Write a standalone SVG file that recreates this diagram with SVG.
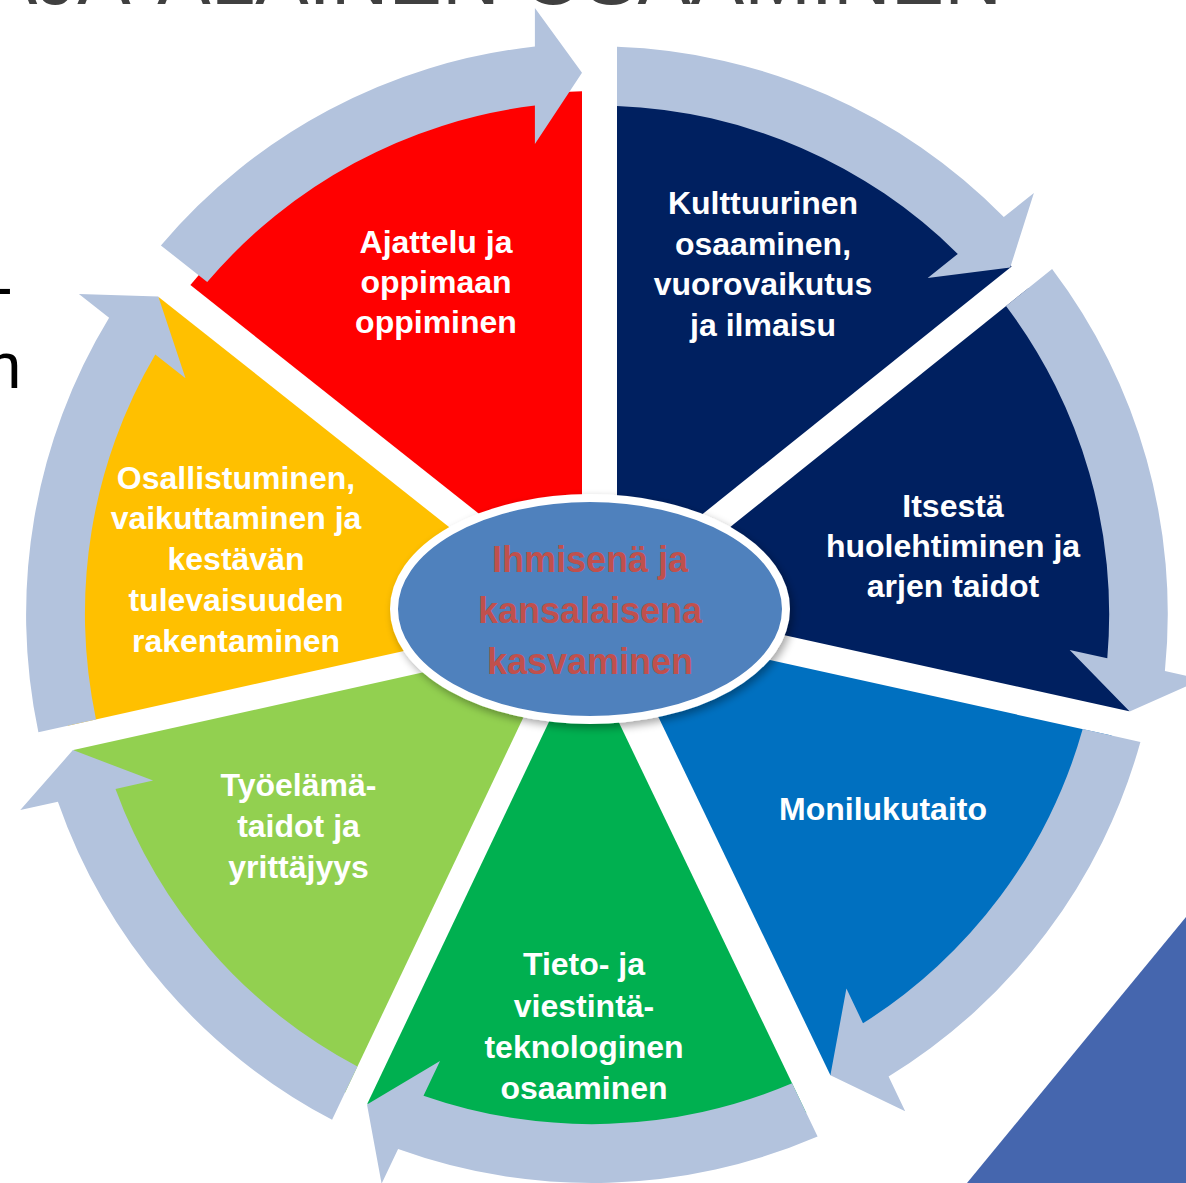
<svg xmlns="http://www.w3.org/2000/svg" width="1186" height="1183" viewBox="0 0 1186 1183">
<defs>
<style>
.lbl{font-family:"Liberation Sans",Arial,sans-serif;font-weight:bold;font-size:32px;fill:#FFFFFF;text-anchor:middle}
.ctr{font-family:"Liberation Sans",Arial,sans-serif;font-weight:bold;font-size:36px;fill:#C0504D;text-anchor:middle}
.arrow{fill:#B3C3DD}
.side{font-family:"Liberation Sans",Arial,sans-serif;font-size:64px;fill:#000000}
.title{font-family:"Liberation Sans",Arial,sans-serif;font-size:80px;fill:#404040;text-anchor:end}
</style>
<filter id="sh" x="-10%" y="-10%" width="130%" height="130%">
<feGaussianBlur in="SourceAlpha" stdDeviation="4"/>
<feOffset dx="3" dy="4" result="b"/>
<feComponentTransfer><feFuncA type="linear" slope="0.35"/></feComponentTransfer>
<feMerge><feMergeNode/><feMergeNode in="SourceGraphic"/></feMerge>
</filter>
</defs>
<rect width="1186" height="1183" fill="#FFFFFF"/>
<text class="title" x="1002" y="4">LAAJA-ALAINEN OSAAMINEN</text>
<text class="side" x="-8.5" y="309">-</text>
<text class="side" x="-14.3" y="388">n</text>
<polygon points="1186,917 967,1183 1186,1183" fill="#4566AE"/>

<g id="seg-ajattelu">
<path d="M537.7 560.3 L190.4 285.1 A523 523 0 0 1 582 91.2 L582 535.4 Z" fill="#FF0000"/>
<text class="lbl" x="436"><tspan x="436" y="253">Ajattelu ja</tspan><tspan x="436" y="293">oppimaan</tspan><tspan x="436" y="333">oppiminen</tspan></text>
</g>
<g id="seg-kulttuurinen">
<path d="M617 536.5 L617 73.4 A541 541 0 0 1 1011.6 266.5 L651.2 555.2 Z" fill="#002060"/>
<text class="lbl" x="763"><tspan x="763" y="214">Kulttuurinen</tspan><tspan x="763" y="255">osaaminen,</tspan><tspan x="763" y="295">vuorovaikutus</tspan><tspan x="763" y="336">ja ilmaisu</tspan></text>
</g>
<g id="seg-itsesta">
<path d="M667.9 576.9 L1028.7 287.9 A541 541 0 0 1 1129.2 711.3 L677 611.5 Z" fill="#002060"/>
<text class="lbl" x="953"><tspan x="953" y="516.5">Itsestä</tspan><tspan x="953" y="557">huolehtiminen ja</tspan><tspan x="953" y="597">arjen taidot</tspan></text>
</g>
<g id="seg-monilukutaito">
<path d="M673.1 638.7 L1111.6 735.5 A541.5 541.5 0 0 1 830.4 1075.2 L641 680.8 Z" fill="#0070C0"/>
<text class="lbl" x="883" y="820">Monilukutaito</text>
</g>
<g id="seg-tieto">
<path d="M605 693.6 L806.3 1112.9 A541 541 0 0 1 367.3 1103.8 L565.3 687.5 Z" fill="#00B050"/>
<text class="lbl" x="584"><tspan x="584" y="975">Tieto- ja</tspan><tspan x="584" y="1016.5">viestintä-</tspan><tspan x="584" y="1057.5">teknologinen</tspan><tspan x="584" y="1098.5">osaaminen</tspan></text>
</g>
<g id="seg-tyoelama">
<path d="M544 674 L345 1092.7 A541 541 0 0 1 73.4 750 L525.4 649.6 Z" fill="#92D050"/>
<text class="lbl" x="298.5"><tspan x="298.5" y="796">Työelämä-</tspan><tspan x="298.5" y="837">taidot ja</tspan><tspan x="298.5" y="878">yrittäjyys</tspan></text>
</g>
<g id="seg-osallistuminen">
<path d="M517.9 625.7 L67.7 725.7 A541 541 0 0 1 158.6 296.9 L522.4 585.2 Z" fill="#FFC000"/>
<text class="lbl" x="236"><tspan x="236" y="488.5">Osallistuminen,</tspan><tspan x="236" y="529">vaikuttaminen ja</tspan><tspan x="236" y="570">kestävän</tspan><tspan x="236" y="611">tulevaisuuden</tspan><tspan x="236" y="652">rakentaminen</tspan></text>
</g>

<g id="connectors">
<path class="arrow" d="M160.9 245.4 A571 571 0 0 1 534.9 46.6 L534.9 8.1 L582 72.7 L534.9 144.1 L534.9 105.6 A512 512 0 0 0 207.2 282.1 Z"/>
<path class="arrow" d="M617 46.85 A571 571 0 0 1 1003.8 217.1 L1033.9 193 L1010.2 267.6 L927.7 278 L957.8 253.9 A512 512 0 0 0 617 105.9 Z"/>
<path class="arrow" d="M1052.1 269.1 A571 571 0 0 1 1164.9 671 L1202.5 679.3 L1129.7 711.4 L1069.7 649.9 L1107.3 658.2 A512 512 0 0 0 1006 306 Z"/>
<path class="arrow" d="M1140.4 741.9 A571 571 0 0 1 888.6 1076.5 L905.2 1111.2 L830.4 1075.2 L846.4 988.6 L863 1023.3 A512 512 0 0 0 1082.7 729.1 Z"/>
<path class="arrow" d="M817.6 1136.5 A571 571 0 0 1 398.1 1148.9 L381.6 1183.7 L367 1104.5 L440 1060.9 L423.5 1095.7 A512 512 0 0 0 792.1 1083.3 Z"/>
<path class="arrow" d="M332.1 1119.8 A571 571 0 0 1 57.9 801.7 L20.3 810.1 L72.9 750.1 L153.1 780.5 L115.5 788.9 A512 512 0 0 0 357.4 1066.5 Z"/>
<path class="arrow" d="M38.4 732.2 A571 571 0 0 1 109.1 317.8 L78.9 293.9 L158.3 296.6 L185.5 378.3 L155.3 354.4 A512 512 0 0 0 96 719.4 Z"/>
</g>

<g id="center">
<ellipse cx="590" cy="609" rx="196" ry="111" fill="#4F81BD" stroke="#FFFFFF" stroke-width="8" filter="url(#sh)"/>
<text class="ctr" x="590"><tspan x="590" y="572">Ihmisenä ja</tspan><tspan x="590" y="623">kansalaisena</tspan><tspan x="590" y="674">kasvaminen</tspan></text>
</g>
</svg>
